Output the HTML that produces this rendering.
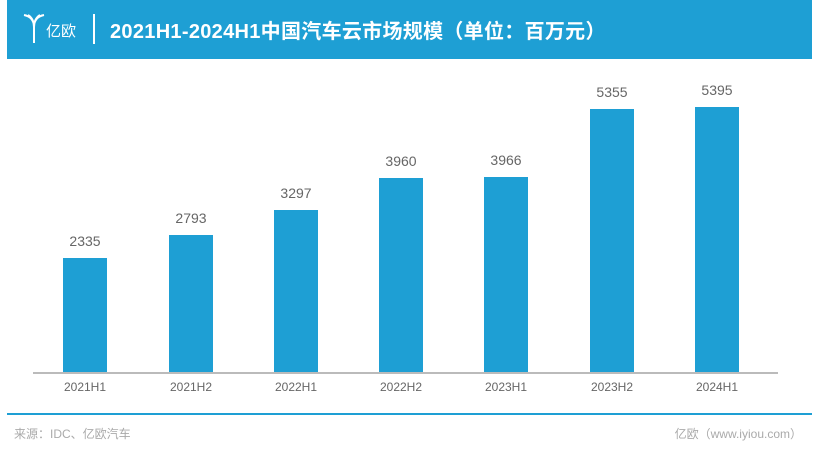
<!DOCTYPE html>
<html><head><meta charset="utf-8"><style>
body{margin:0;width:820px;height:458px;background:#fff;position:relative;overflow:hidden;font-family:"Liberation Sans","Noto Sans CJK SC",sans-serif}
.hd{position:absolute;left:7px;top:0;width:805px;height:59px;background:#1e9fd4}
.t{position:absolute;left:110px;top:15px;color:#fff;font-size:20px;font-weight:bold;white-space:nowrap;letter-spacing:0.3px}
.lg{position:absolute;left:46px;top:20px;color:#fff;font-size:15px}
.sep{position:absolute;left:93px;top:14px;width:2px;height:30px;background:#fff}
.bar{position:absolute;width:44px;background:#1e9fd4}
.v{position:absolute;width:80px;text-align:center;color:#666;font-size:14px}
.x{position:absolute;width:80px;text-align:center;color:#666;font-size:12px;top:380px}
</style></head><body>
<div class="hd"></div>
<svg style="position:absolute;left:22px;top:13px" width="24" height="32" viewBox="0 0 24 32"><path d="M2 2 Q12 4 12 14 V30 M22 2 Q12 4 12 14 M6 2 Q12 6 12 14 M18 2 Q12 6 12 14" stroke="#fff" stroke-width="2" fill="none"/></svg>
<div class="lg">亿欧</div>
<div class="sep"></div>
<div class="t">2021H1-2024H1中国汽车云市场规模（单位：百万元）</div>
<div style="position:absolute;left:33px;top:372px;width:745px;height:2px;background:#bbb"></div>
<div class="bar" style="left:63px;top:258px;height:114px"></div>
<div class="bar" style="left:169px;top:235px;height:137px"></div>
<div class="bar" style="left:274px;top:210px;height:162px"></div>
<div class="bar" style="left:379px;top:178px;height:194px"></div>
<div class="bar" style="left:484px;top:177px;height:195px"></div>
<div class="bar" style="left:590px;top:109px;height:263px"></div>
<div class="bar" style="left:695px;top:107px;height:265px"></div>
<div class="v" style="left:45px;top:233px">2335</div>
<div class="v" style="left:151px;top:210px">2793</div>
<div class="v" style="left:256px;top:185px">3297</div>
<div class="v" style="left:361px;top:153px">3960</div>
<div class="v" style="left:466px;top:152px">3966</div>
<div class="v" style="left:572px;top:84px">5355</div>
<div class="v" style="left:677px;top:82px">5395</div>
<div class="x" style="left:45px">2021H1</div>
<div class="x" style="left:151px">2021H2</div>
<div class="x" style="left:256px">2022H1</div>
<div class="x" style="left:361px">2022H2</div>
<div class="x" style="left:466px">2023H1</div>
<div class="x" style="left:572px">2023H2</div>
<div class="x" style="left:677px">2024H1</div>
<div style="position:absolute;left:7px;top:413px;width:805px;height:2px;background:#1e9fd4"></div>
<div style="position:absolute;left:14px;top:425px;color:#aaa;font-size:12px">来源：IDC、亿欧汽车</div>
<div style="position:absolute;right:18px;top:425px;color:#aaa;font-size:12px">亿欧（www.iyiou.com）</div>
</body></html>
